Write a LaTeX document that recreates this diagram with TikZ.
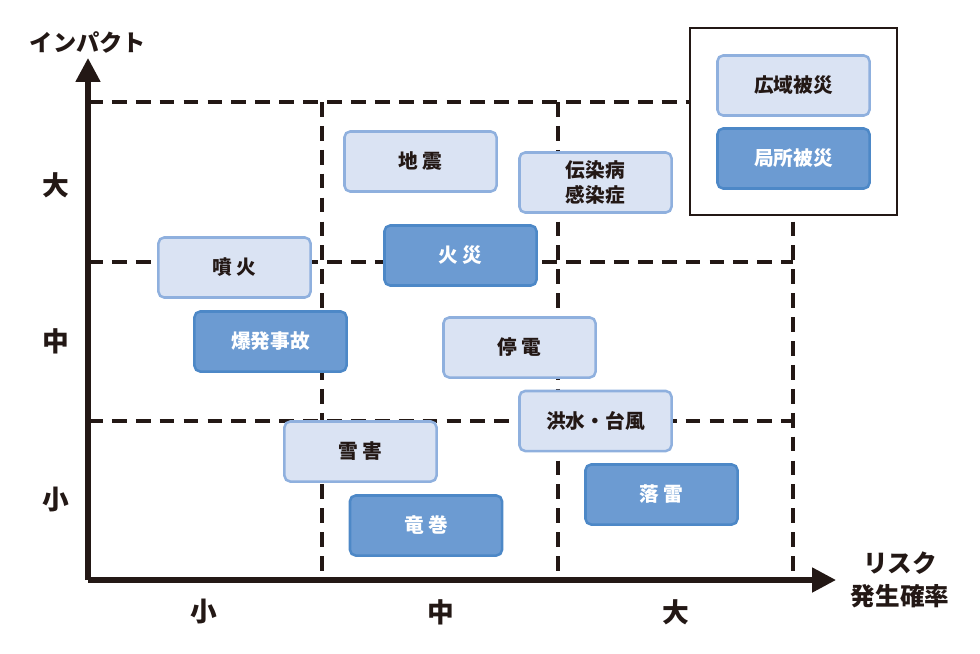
\documentclass[tikz,border=0pt]{standalone}
\usepackage{fontspec}
\setmainfont{Noto Sans CJK JP}
\usetikzlibrary{arrows.meta}

\definecolor{inkdark}{HTML}{231815}
\definecolor{lightfill}{HTML}{DAE3F3}
\definecolor{lightline}{HTML}{8FB0DE}
\definecolor{darkfill}{HTML}{6C9BD2}
\definecolor{darkline}{HTML}{4D88C7}

\begin{document}
\begin{tikzpicture}[x=0.025cm, y=-0.025cm]

\tikzset{risk/.style = {shape=rectangle, rounded corners=4pt, line width=1.8pt,
  minimum width=3.8cm, minimum height=1.5cm, font=\fontsize{14}{18}\selectfont\bfseries, align=center}}
\tikzset{wide/.style = {risk, draw=lightline, fill=lightfill, text=inkdark}}
\tikzset{local/.style = {risk, draw=darkline, fill=darkfill, text=white}}
\tikzset{grid/.style = {draw=inkdark, line width=2.4pt, dash pattern=on 10.5pt off 6.5pt}}
\tikzset{axis/.style = {draw=inkdark, line width=3.6pt, -{Triangle[length=17pt, width=17pt]}}}
\tikzset{lvl/.style = {text=inkdark, font=\fontsize{19}{22}\selectfont\bfseries}}

\useasboundingbox (0,0) rectangle (980,653);

%coordinates
\coordinate (o) at (88,580);
\coordinate (ytip) at (88,58);
\coordinate (xtip) at (836,580);

%grid
\draw[grid] (88,102) -- (793,102);
\draw[grid] (88,262) -- (793,262);
\draw[grid] (88,421) -- (793,421);
\draw[grid] (322,102) -- (322,574);
\draw[grid] (558,102) -- (558,574);
\draw[grid] (793,102) -- (793,574);

%legend
\draw[inkdark, line width=2pt, fill=white] (690,28) rectangle (897,215);
\node[wide] (wide) at (793.5,85.5) {広域被災};
\node[local] (local) at (793.5,158.5) {局所被災};

%axes
\draw[axis] (o) -- (ytip);
\draw[axis] (o) -- (xtip);
\node[lvl, font=\fontsize{16.5}{19}\selectfont\bfseries] (impact) at (88,42) {インパクト};
\node[lvl, align=center, font=\fontsize{17.5}{23}\selectfont\bfseries] (prob) at (900,580) {リスク\\発生確率};
\node[lvl] (ybig) at (56,185) {大};
\node[lvl] (ymid) at (56,341) {中};
\node[lvl] (ysmall) at (56,500) {小};
\node[lvl] (xsmall) at (204,612) {小};
\node[lvl] (xmid) at (441,612) {中};
\node[lvl] (xbig) at (676,612) {大};

%risks
\node[wide] (quake) at (420.5,161.5) {地 震};
\node[wide] (epidemic) at (595.5,182.5) {伝染病\\感染症};
\node[wide] (eruption) at (234.5,267.5) {噴 火};
\node[local] (fire) at (460.5,255.5) {火 災};
\node[local] (blast) at (270.5,341.5) {爆発事故};
\node[wide] (outage) at (519.5,347.5) {停 電};
\node[wide] (flood) at (595.5,421) {洪水・台風};
\node[wide] (snow) at (360.5,451.5) {雪 害};
\node[local] (tornado) at (426,525.5) {竜 巻};
\node[local] (lightning) at (661.5,494.5) {落 雷};

\end{tikzpicture}
\end{document}
